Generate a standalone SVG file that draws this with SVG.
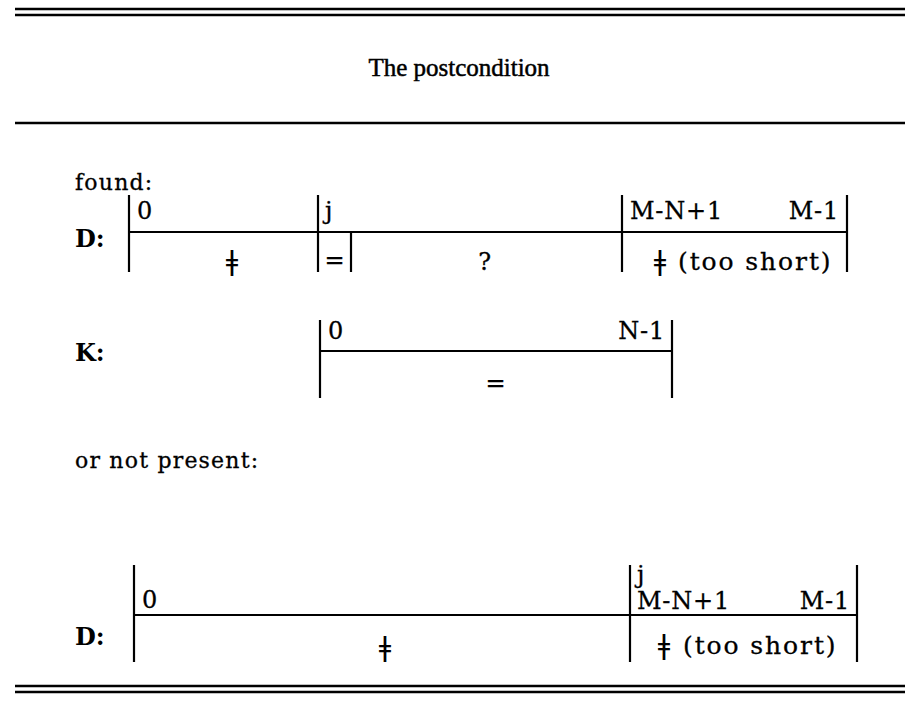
<svg xmlns="http://www.w3.org/2000/svg" width="917" height="707" viewBox="0 0 917 707">
<style>
.ln{stroke:#000;stroke-width:2.2;fill:none}
.rule{stroke:#000;stroke-width:2.6;fill:none}
.t{font-family:"DejaVu Serif","Liberation Serif",serif;font-size:24px;letter-spacing:0.8px;fill:#000;stroke:#000;stroke-width:0.3}
.ts{font-family:"DejaVu Serif","Liberation Serif",serif;font-size:25px;letter-spacing:1.9px;fill:#000;stroke:#000;stroke-width:0.3}
.h{font-family:"DejaVu Serif","Liberation Serif",serif;font-size:22px;letter-spacing:1.2px;fill:#000;stroke:#000;stroke-width:0.3}
.lb{font-family:"DejaVu Serif","Liberation Serif",serif;font-size:24px;font-weight:bold;fill:#000}
.ne{font-family:"DejaVu Sans","Liberation Sans",sans-serif;font-size:27px;fill:#000}
.title{font-family:"Liberation Serif","Times New Roman",serif;font-size:25px;fill:#000;stroke:#000;stroke-width:0.5}
</style>
<rect width="917" height="707" fill="#fff"/>
<g id="rules">
<line class="rule" x1="15" y1="9" x2="905" y2="9"/>
<line class="rule" x1="15" y1="15" x2="905" y2="15"/>
<line class="rule" x1="15" y1="123" x2="905" y2="123"/>
<line class="rule" x1="15" y1="686" x2="905" y2="686"/>
<line class="rule" x1="15" y1="692" x2="905" y2="692"/>
</g>
<text class="title" x="459" y="76" text-anchor="middle">The postcondition</text>
<text class="h" x="75" y="190">found:</text>
<g id="D1">
<text class="lb" x="75" y="247">D:</text>
<line class="ln" x1="129" y1="195" x2="129" y2="272"/>
<line class="ln" x1="318" y1="195" x2="318" y2="272"/>
<line class="ln" x1="351" y1="232" x2="351" y2="272"/>
<line class="ln" x1="622" y1="195" x2="622" y2="272"/>
<line class="ln" x1="847" y1="195" x2="847" y2="272"/>
<line class="ln" x1="129" y1="232" x2="847" y2="232"/>
<text class="t" x="137" y="219">0</text>
<text class="t" x="325" y="219">j</text>
<text class="t" x="630" y="219">M-N+1</text>
<text class="t" x="839" y="219" text-anchor="end">M-1</text>
<text class="ne" x="232" y="270" text-anchor="middle">ǂ</text>
<text class="t" x="335" y="268" text-anchor="middle">=</text>
<text class="t" x="485" y="270" text-anchor="middle">?</text>
<text class="ne" x="660" y="270" text-anchor="middle">ǂ</text>
<text class="ts" x="678" y="270">(too short)</text>
</g>
<g id="K">
<text class="lb" x="75" y="361">K:</text>
<line class="ln" x1="320" y1="320" x2="320" y2="398"/>
<line class="ln" x1="672" y1="320" x2="672" y2="398"/>
<line class="ln" x1="320" y1="351" x2="672" y2="351"/>
<text class="t" x="328" y="339">0</text>
<text class="t" x="665" y="339" text-anchor="end">N-1</text>
<text class="t" x="496" y="391" text-anchor="middle">=</text>
</g>
<text class="h" x="75" y="468">or not present:</text>
<g id="D2">
<text class="lb" x="75" y="645">D:</text>
<line class="ln" x1="134" y1="565" x2="134" y2="662"/>
<line class="ln" x1="630" y1="565" x2="630" y2="662"/>
<line class="ln" x1="857" y1="565" x2="857" y2="662"/>
<line class="ln" x1="134" y1="615" x2="857" y2="615"/>
<text class="t" x="142" y="608">0</text>
<text class="t" x="637" y="583">j</text>
<text class="t" x="637" y="609">M-N+1</text>
<text class="t" x="850" y="609" text-anchor="end">M-1</text>
<text class="ne" x="385" y="656" text-anchor="middle">ǂ</text>
<text class="ne" x="664" y="654" text-anchor="middle">ǂ</text>
<text class="ts" x="683" y="654">(too short)</text>
</g>
</svg>
